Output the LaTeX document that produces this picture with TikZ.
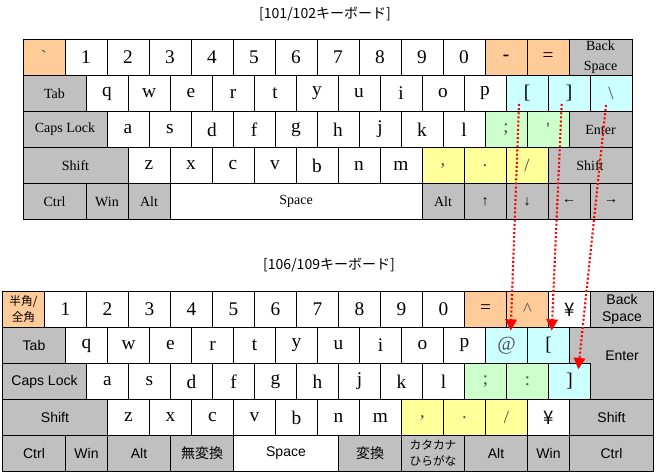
\documentclass[tikz,border=0pt]{standalone}
\usepackage{fontspec}
\setmainfont{Liberation Serif}
\newfontfamily\jpfont{Noto Sans CJK JP}
\newfontfamily\lsans{Liberation Sans}
\usetikzlibrary{arrows.meta}
\definecolor{korange}{HTML}{FFCC99}
\definecolor{kcyan}{HTML}{CCFFFF}
\definecolor{kgreen}{HTML}{CCFFCC}
\definecolor{kyellow}{HTML}{FFFF99}
\definecolor{kgray}{HTML}{C0C0C0}
\definecolor{pcol}{HTML}{505050}
\definecolor{kred}{HTML}{FF0000}
\tikzset{
  kb/.style={draw=black, line width=0.75pt, rectangle, inner sep=0pt, outer sep=0pt,
    minimum height=27pt, anchor=north west, align=center},
  lt/.style={font=\fontsize{14.5}{16}\selectfont},
  pt/.style={font=\fontsize{14}{16}\selectfont, text=pcol},
  ls/.style={font=\fontsize{10.5}{15}\selectfont},
  ss/.style={font=\lsans\fontsize{10.5}{13}\selectfont},
  jt/.style={font=\jpfont\fontsize{10.5}{13}\selectfont},
  js/.style={font=\jpfont\fontsize{8.8}{12}\selectfont},
  title/.style={font=\jpfont\fontsize{10.5}{12}\selectfont},
  remap/.style={draw=kred, line width=1.6pt, dash pattern=on 1.5pt off 1.6pt,
    -{Triangle[length=8.5pt,width=8.5pt,fill=kred]}},
}
\def\kwa{31.5pt}
\def\kwb{47.25pt}
\def\kwc{63pt}
\def\kwd{78.75pt}
\def\kwf{189pt}
\newcommand\K[7]{\node[kb,fill=#5,minimum width=#4,#6] (#1) at (#2,#3) {#7};}
\begin{document}
\begin{tikzpicture}[x=0.75pt,y=-0.75pt]
\fill[white] (0,0) rectangle (657,474);
\useasboundingbox (0,0) rectangle (657,474);
% titles
\node[title] (t1) at (325,14) {[101/102キーボード]};
\node[title] (t2) at (329,265) {[106/109キーボード]};
% ===== top keyboard =====
% row 1
\K{tgrave}{23}{39.5}{\kwa}{korange}{pt}{\textasciigrave}
\K{t1}{65}{39.5}{\kwa}{white}{lt}{1}
\K{t2}{107}{39.5}{\kwa}{white}{lt}{2}
\K{t3}{149}{39.5}{\kwa}{white}{lt}{3}
\K{t4}{191}{39.5}{\kwa}{white}{lt}{4}
\K{t5}{233}{39.5}{\kwa}{white}{lt}{5}
\K{t6}{275}{39.5}{\kwa}{white}{lt}{6}
\K{t7}{317}{39.5}{\kwa}{white}{lt}{7}
\K{t8}{359}{39.5}{\kwa}{white}{lt}{8}
\K{t9}{401}{39.5}{\kwa}{white}{lt}{9}
\K{t0}{443}{39.5}{\kwa}{white}{lt}{0}
\K{tminus}{485}{39.5}{\kwa}{korange}{lt}{\textbf{-}}
\K{tequal}{527}{39.5}{\kwa}{korange}{lt}{=}
\K{tbs}{569}{39.5}{\kwb}{kgray}{ls}{Back\\Space}
% row 2
\K{ttab}{23}{75.5}{\kwb}{kgray}{ls}{Tab}
\K{tq}{86}{75.5}{\kwa}{white}{lt}{q}
\K{tw}{128}{75.5}{\kwa}{white}{lt}{w}
\K{te}{170}{75.5}{\kwa}{white}{lt}{e}
\K{tr}{212}{75.5}{\kwa}{white}{lt}{r}
\K{tt}{254}{75.5}{\kwa}{white}{lt}{t}
\K{ty}{296}{75.5}{\kwa}{white}{lt}{y}
\K{tu}{338}{75.5}{\kwa}{white}{lt}{u}
\K{ti}{380}{75.5}{\kwa}{white}{lt}{i}
\K{to}{422}{75.5}{\kwa}{white}{lt}{o}
\K{tp}{464}{75.5}{\kwa}{white}{lt}{p}
\K{tlbr}{506}{75.5}{\kwa}{kcyan}{lt}{[}
\K{trbr}{548}{75.5}{\kwa}{kcyan}{lt}{]}
\K{tbsl}{590}{75.5}{\kwa}{kcyan}{pt}{\textbackslash}
% row 3
\K{tcaps}{23}{111.5}{\kwc}{kgray}{ls}{Caps Lock}
\K{ta}{107}{111.5}{\kwa}{white}{lt}{a}
\K{ts}{149}{111.5}{\kwa}{white}{lt}{s}
\K{td}{191}{111.5}{\kwa}{white}{lt}{d}
\K{tf}{233}{111.5}{\kwa}{white}{lt}{f}
\K{tg}{275}{111.5}{\kwa}{white}{lt}{g}
\K{th}{317}{111.5}{\kwa}{white}{lt}{h}
\K{tj}{359}{111.5}{\kwa}{white}{lt}{j}
\K{tk}{401}{111.5}{\kwa}{white}{lt}{k}
\K{tl}{443}{111.5}{\kwa}{white}{lt}{l}
\K{tsemi}{485}{111.5}{\kwa}{kgreen}{pt}{;}
\K{tquote}{527}{111.5}{\kwa}{kgreen}{pt}{\textquotesingle}
\K{tenter}{569}{111.5}{\kwb}{kgray}{ls}{Enter}
% row 4
\K{tlshift}{23}{147.5}{\kwd}{kgray}{ls}{Shift}
\K{tz}{128}{147.5}{\kwa}{white}{lt}{z}
\K{tx}{170}{147.5}{\kwa}{white}{lt}{x}
\K{tc}{212}{147.5}{\kwa}{white}{lt}{c}
\K{tv}{254}{147.5}{\kwa}{white}{lt}{v}
\K{tb}{296}{147.5}{\kwa}{white}{lt}{b}
\K{tn}{338}{147.5}{\kwa}{white}{lt}{n}
\K{tm}{380}{147.5}{\kwa}{white}{lt}{m}
\K{tcomma}{422}{147.5}{\kwa}{kyellow}{pt}{,}
\K{tdot}{464}{147.5}{\kwa}{kyellow}{pt}{.}
\K{tslash}{506}{147.5}{\kwa}{kyellow}{pt}{/}
\K{trshift}{548}{147.5}{\kwc}{kgray}{ls}{Shift}
% row 5
\K{tctrl}{23}{183.5}{\kwb}{kgray}{ls}{Ctrl}
\K{twin}{86}{183.5}{\kwa}{kgray}{ls}{Win}
\K{talt}{128}{183.5}{\kwa}{kgray}{ls}{Alt}
\K{tspace}{170}{183.5}{\kwf}{white}{ls}{Space}
\K{talt2}{422}{183.5}{\kwa}{kgray}{ls}{Alt}
\K{tup}{464}{183.5}{\kwa}{kgray}{ls}{↑}
\K{tdown}{506}{183.5}{\kwa}{kgray}{ls}{↓}
\K{tleft}{548}{183.5}{\kwa}{kgray}{ls}{←}
\K{tright}{590}{183.5}{\kwa}{kgray}{ls}{→}
% ===== bottom keyboard =====
% row 1
\K{bhz}{2.5}{291.5}{\kwa}{korange}{js}{半角/\\全角}
\K{b1}{44.5}{291.5}{\kwa}{white}{lt}{1}
\K{b2}{86.5}{291.5}{\kwa}{white}{lt}{2}
\K{b3}{128.5}{291.5}{\kwa}{white}{lt}{3}
\K{b4}{170.5}{291.5}{\kwa}{white}{lt}{4}
\K{b5}{212.5}{291.5}{\kwa}{white}{lt}{5}
\K{b6}{254.5}{291.5}{\kwa}{white}{lt}{6}
\K{b7}{296.5}{291.5}{\kwa}{white}{lt}{7}
\K{b8}{338.5}{291.5}{\kwa}{white}{lt}{8}
\K{b9}{380.5}{291.5}{\kwa}{white}{lt}{9}
\K{b0}{422.5}{291.5}{\kwa}{white}{lt}{0}
\K{bequal}{464.5}{291.5}{\kwa}{korange}{lt}{=}
\K{bcaret}{506.5}{291.5}{\kwa}{korange}{pt}{\textasciicircum}
\K{byen}{548.5}{291.5}{\kwa}{white}{jt}{\fontsize{14}{16}\selectfont ¥}
\K{bbs}{590.5}{291.5}{\kwb}{kgray}{ss}{Back\\Space}
% row 2
\K{btab}{2.5}{327.5}{\kwb}{kgray}{ss}{Tab}
\K{bq}{65.5}{327.5}{\kwa}{white}{lt}{q}
\K{bw}{107.5}{327.5}{\kwa}{white}{lt}{w}
\K{be}{149.5}{327.5}{\kwa}{white}{lt}{e}
\K{br}{191.5}{327.5}{\kwa}{white}{lt}{r}
\K{bt}{233.5}{327.5}{\kwa}{white}{lt}{t}
\K{by}{275.5}{327.5}{\kwa}{white}{lt}{y}
\K{bu}{317.5}{327.5}{\kwa}{white}{lt}{u}
\K{bi}{359.5}{327.5}{\kwa}{white}{lt}{i}
\K{bo}{401.5}{327.5}{\kwa}{white}{lt}{o}
\K{bp}{443.5}{327.5}{\kwa}{white}{lt}{p}
\K{bat}{485.5}{327.5}{\kwa}{kcyan}{pt}{\fontsize{15}{16}\selectfont @}
\K{blbr}{527.5}{327.5}{\kwa}{kcyan}{lt}{[}
% Enter (L-shaped)
\filldraw[fill=kgray, draw=black, line width=0.75pt]
  (569.5,327.5) -- (653.5,327.5) -- (653.5,399.5) -- (590.5,399.5)
  -- (590.5,363.5) -- (569.5,363.5) -- cycle;
\node[ss] (benter) at (622,356) {Enter};
% row 3
\K{bcaps}{2.5}{363.5}{\kwc}{kgray}{ss}{Caps Lock}
\K{ba}{86.5}{363.5}{\kwa}{white}{lt}{a}
\K{bs}{128.5}{363.5}{\kwa}{white}{lt}{s}
\K{bd}{170.5}{363.5}{\kwa}{white}{lt}{d}
\K{bf}{212.5}{363.5}{\kwa}{white}{lt}{f}
\K{bg}{254.5}{363.5}{\kwa}{white}{lt}{g}
\K{bh}{296.5}{363.5}{\kwa}{white}{lt}{h}
\K{bj}{338.5}{363.5}{\kwa}{white}{lt}{j}
\K{bk}{380.5}{363.5}{\kwa}{white}{lt}{k}
\K{bl}{422.5}{363.5}{\kwa}{white}{lt}{l}
\K{bsemi}{464.5}{363.5}{\kwa}{kgreen}{pt}{;}
\K{bcolon}{506.5}{363.5}{\kwa}{kgreen}{pt}{:}
\K{brbr}{548.5}{363.5}{\kwa}{kcyan}{lt}{]}
% row 4
\K{blshift}{2.5}{399.5}{\kwd}{kgray}{ss}{Shift}
\K{bz}{107.5}{399.5}{\kwa}{white}{lt}{z}
\K{bx}{149.5}{399.5}{\kwa}{white}{lt}{x}
\K{bc}{191.5}{399.5}{\kwa}{white}{lt}{c}
\K{bv}{233.5}{399.5}{\kwa}{white}{lt}{v}
\K{bb}{275.5}{399.5}{\kwa}{white}{lt}{b}
\K{bn}{317.5}{399.5}{\kwa}{white}{lt}{n}
\K{bm}{359.5}{399.5}{\kwa}{white}{lt}{m}
\K{bcomma}{401.5}{399.5}{\kwa}{kyellow}{pt}{,}
\K{bdot}{443.5}{399.5}{\kwa}{kyellow}{pt}{.}
\K{bslash}{485.5}{399.5}{\kwa}{kyellow}{pt}{/}
\K{byen2}{527.5}{399.5}{\kwa}{white}{jt}{\fontsize{14}{16}\selectfont ¥}
\K{brshift}{569.5}{399.5}{\kwc}{kgray}{ss}{Shift}
% row 5
\K{bctrl}{2.5}{435.5}{\kwb}{kgray}{ss}{Ctrl}
\K{bwin}{65.5}{435.5}{\kwa}{kgray}{ss}{Win}
\K{balt}{107.5}{435.5}{\kwb}{kgray}{ss}{Alt}
\K{bmuhen}{170.5}{435.5}{\kwb}{kgray}{jt}{無変換}
\K{bspace}{233.5}{435.5}{\kwd}{white}{ss}{Space}
\K{bhen}{338.5}{435.5}{\kwb}{kgray}{jt}{変換}
\K{bkana}{401.5}{435.5}{\kwb}{kgray}{js}{カタカナ\\ひらがな}
\K{balt2}{464.5}{435.5}{\kwb}{kgray}{ss}{Alt}
\K{bwin2}{527.5}{435.5}{\kwa}{kgray}{ss}{Win}
\K{bctrl2}{569.5}{435.5}{\kwc}{kgray}{ss}{Ctrl}
% ===== remapping arrows =====
\coordinate (s1) at (519,104);
\coordinate (e1) at (510.7,330.7);
\coordinate (s2) at (561.7,104);
\coordinate (e2) at (551.7,330.7);
\coordinate (s3) at (606,105);
\coordinate (e3) at (578.3,369.3);
\draw[remap] (s1) -- (e1);
\draw[remap] (s2) -- (e2);
\draw[remap] (s3) -- (e3);
\end{tikzpicture}
\end{document}
